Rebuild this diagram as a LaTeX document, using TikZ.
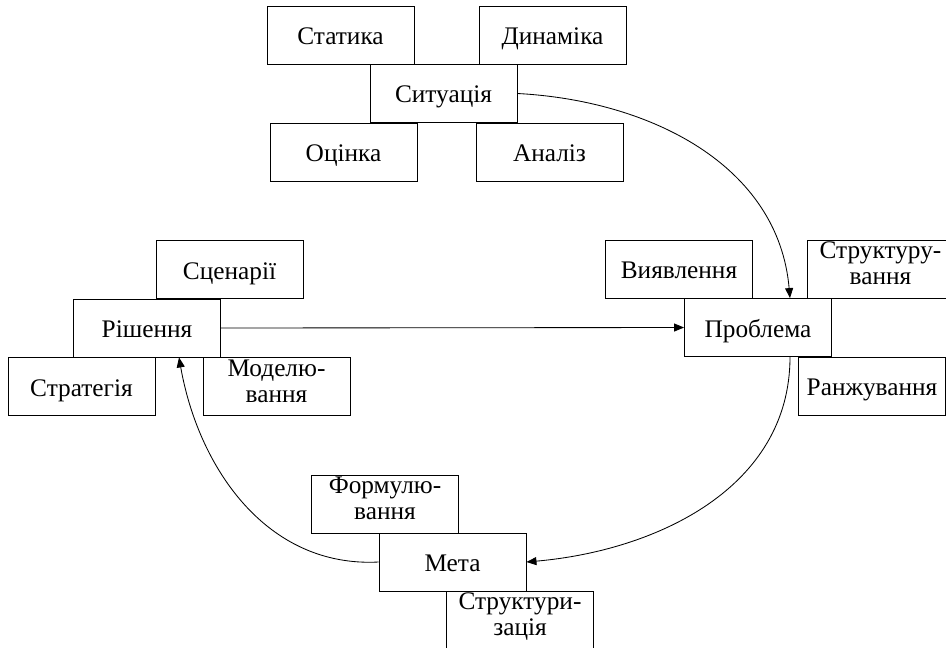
\documentclass[tikz,border=0pt]{standalone}
\usepackage{fontspec}
\setmainfont{Liberation Serif}
\usetikzlibrary{arrows.meta}
\tikzset{
	blok/.style={draw,line width=0.6pt,minimum width=3.675cm,minimum height=1.45cm,
		align=center,inner sep=1pt,font=\fontsize{18}{18.3}\selectfont,
		text height=14.5pt,text depth=1pt},
	blokdva/.style={blok,text height=,text depth=,
		execute at end node={\rule[-8pt]{0pt}{0pt}}},
	strilka/.style={line width=0.6pt,-{Triangle[length=0.25cm,width=0.2cm]}}
}
\begin{document}
\begin{tikzpicture}[x=0.025cm,y=-0.025cm]
		\clip (0,0) rectangle (946,647);
		%situation
		\node[blok] (stat) at (340.5,35) {Статика};
		\node[blok] (dyn) at (552.5,35) {Динаміка};
		\node[blok] (sit) at (443.5,93.5) {Ситуація};
		\node[blok] (ocin) at (343.5,152.5) {Оцінка};
		\node[blok] (anal) at (549.5,152.5) {Аналіз};
		%decision
		\node[blok] (scen) at (229.5,269.5) {Сценарії};
		\node[blok] (rish) at (147,328) {Рішення};
		\node[blok] (strat) at (81.5,386.5) {Стратегія};
		\node[blokdva] (model) at (276.5,386.5) {Моделю-\\вання};
		%problem
		\node[blok] (vyyav) at (679,269) {Виявлення};
		\node[blokdva] (struk) at (880.5,269) {Структуру-\\вання};
		\node[blok] (probl) at (758,327.5) {Проблема};
		\node[blok] (ranzh) at (872,386) {Ранжування};
		%goal
		\node[blokdva] (form) at (385,504) {Формулю-\\вання};
		\node[blok] (meta) at (452.5,562) {Мета};
		\node[blokdva] (strukt) at (520,620) {Структури-\\зація};
		%arrows
		\draw[strilka] (sit.east) to[out=-3,in=95] (probl.north -| 790,0);
		\draw[strilka] (rish.east) -- (probl.west);
		\draw[strilka] (probl.south -| 790,0) to[out=-90,in=5] (meta.east);
		\draw[strilka] (meta.west) to[out=183,in=-80] (rish.south -| 179,0);
		\end{tikzpicture}
\end{document}
